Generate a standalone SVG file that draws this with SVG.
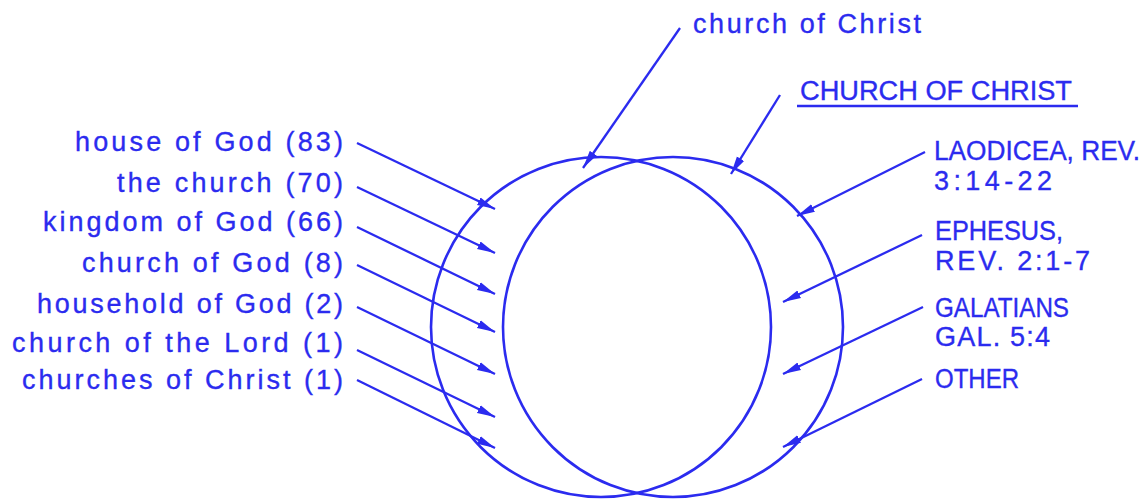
<svg xmlns="http://www.w3.org/2000/svg" width="1147" height="500" viewBox="0 0 1147 500">
<style>
  .t{font-family:"Liberation Sans",Arial,sans-serif;font-size:27px;fill:#2b2bef;stroke:#2b2bef;stroke-width:0.35}
  .c{fill:none;stroke:#2b2bef;stroke-width:2.6}
  .a{fill:none;stroke:#2b2bef;stroke-width:2.3;marker-end:url(#ah)}
  .u{stroke:#2b2bef;stroke-width:2.6}
</style>
<defs>
  <marker id="ah" markerUnits="userSpaceOnUse" markerWidth="20" markerHeight="10" refX="18" refY="5" orient="auto">
    <path d="M0,0.8 L18,5 L0,9.2 z" fill="#2b2bef"/>
  </marker>
</defs>
<rect width="1147" height="500" fill="#ffffff"/>
<g id="circle-left"><circle class="c" cx="601" cy="327" r="170"/></g>
<g id="circle-right"><circle class="c" cx="673" cy="327" r="170"/></g>
<g id="connectors">
  <line class="a" x1="357" y1="143" x2="495" y2="209"/>
  <line class="a" x1="357" y1="187" x2="495" y2="253"/>
  <line class="a" x1="357" y1="227" x2="495" y2="294"/>
  <line class="a" x1="357" y1="265" x2="495" y2="332"/>
  <line class="a" x1="357" y1="307" x2="495" y2="374"/>
  <line class="a" x1="357" y1="350" x2="495" y2="417"/>
  <line class="a" x1="357" y1="380" x2="495" y2="448"/>
  <line class="a" x1="680" y1="28" x2="583" y2="168"/>
  <line class="a" x1="780" y1="95" x2="731" y2="174"/>
  <line class="a" x1="925" y1="152" x2="797" y2="216"/>
  <line class="a" x1="922" y1="235" x2="783" y2="302"/>
  <line class="a" x1="923" y1="307" x2="783" y2="374"/>
  <line class="a" x1="922" y1="379" x2="783" y2="447"/>
</g>
<g id="label-house-of-god"><text class="t" x="75" y="151" textLength="268">house of God (83)</text></g>
<g id="label-the-church"><text class="t" x="117" y="192" textLength="226">the church (70)</text></g>
<g id="label-kingdom"><text class="t" x="43" y="231" textLength="300">kingdom of God (66)</text></g>
<g id="label-church-of-god"><text class="t" x="82" y="272" textLength="261">church of God (8)</text></g>
<g id="label-household"><text class="t" x="37" y="313" textLength="306">household of God (2)</text></g>
<g id="label-church-of-lord"><text class="t" x="12" y="352" textLength="331">church of the Lord (1)</text></g>
<g id="label-churches-of-christ"><text class="t" x="22" y="389" textLength="321">churches of Christ (1)</text></g>
<g id="label-church-of-christ"><text class="t" x="693" y="33" textLength="228">church of Christ</text></g>
<g id="label-CHURCH-OF-CHRIST"><text class="t" x="800" y="100" textLength="272" lengthAdjust="spacingAndGlyphs">CHURCH OF CHRIST</text><line class="u" x1="797" y1="106" x2="1078" y2="106"/></g>
<g id="label-laodicea"><text class="t" x="934" y="160" textLength="206" lengthAdjust="spacingAndGlyphs">LAODICEA, REV.</text><text class="t" x="934" y="190" textLength="118">3:14-22</text></g>
<g id="label-ephesus"><text class="t" x="935" y="240" textLength="128" lengthAdjust="spacingAndGlyphs">EPHESUS,</text><text class="t" x="935" y="270" textLength="155">REV. 2:1-7</text></g>
<g id="label-galatians"><text class="t" x="935" y="317" textLength="134" lengthAdjust="spacingAndGlyphs">GALATIANS</text><text class="t" x="935" y="346" textLength="115">GAL. 5:4</text></g>
<g id="label-other"><text class="t" x="935" y="388" textLength="84" lengthAdjust="spacingAndGlyphs">OTHER</text></g>
</svg>
